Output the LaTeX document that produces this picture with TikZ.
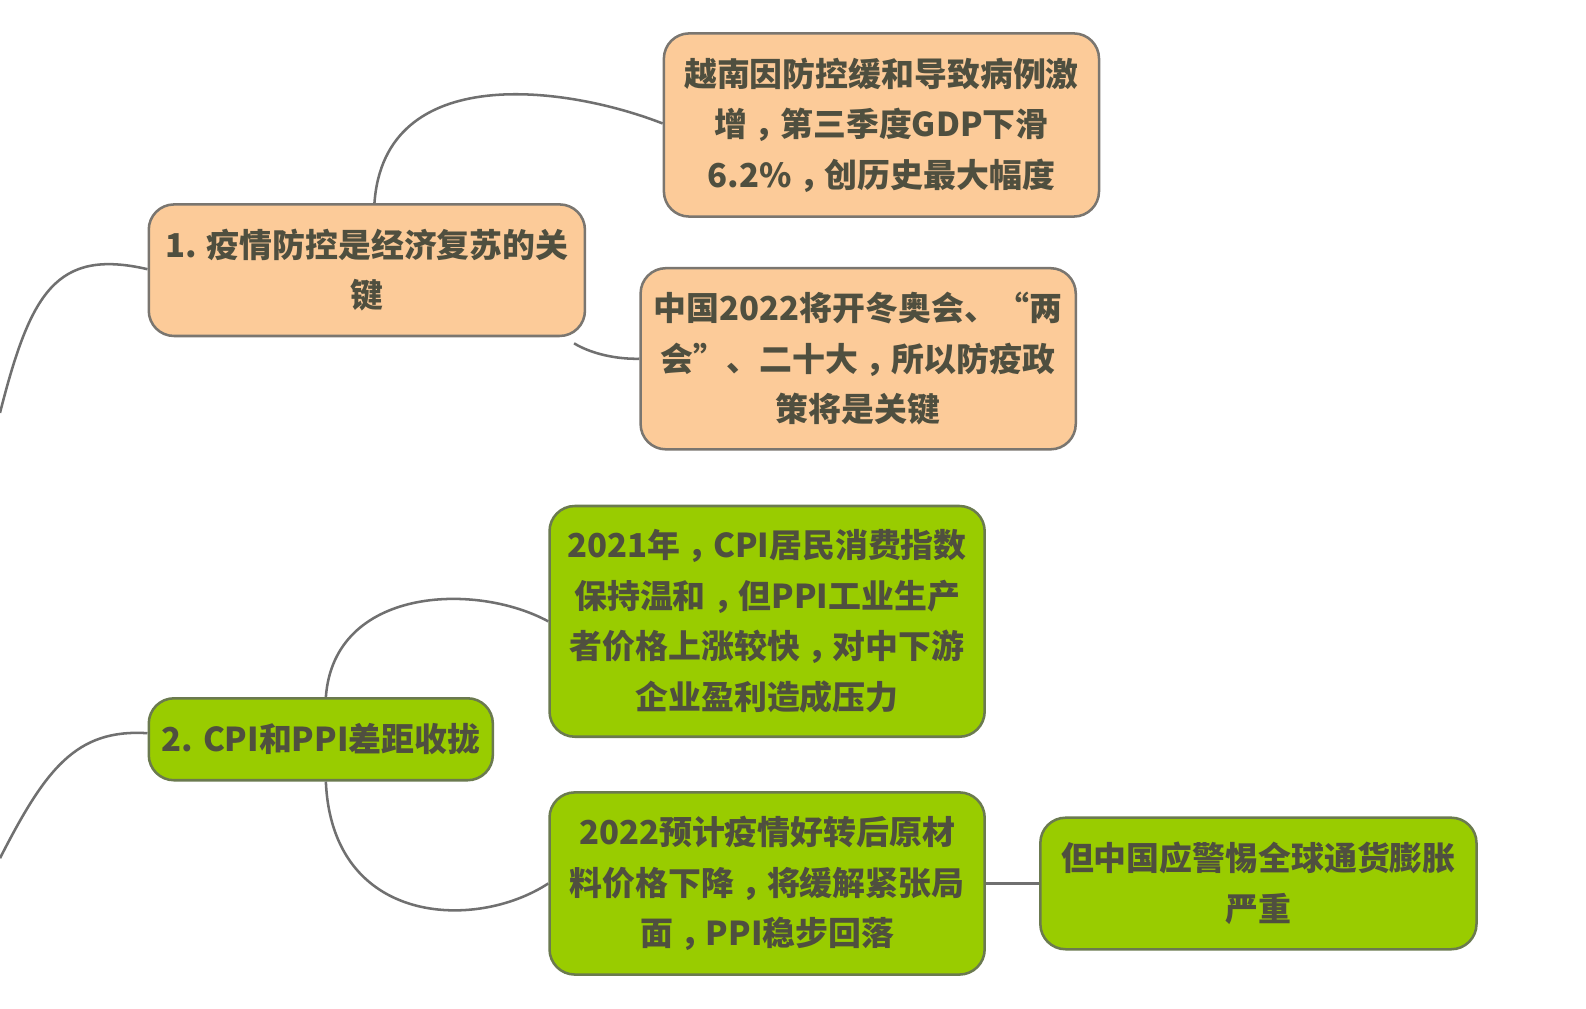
\documentclass[tikz,border=0pt]{standalone}
\usepackage{fontspec}
\newfontfamily\cjk{Noto Sans CJK SC}
\newcommand\CM{\makebox[1em][l]{\hspace{0.22em}\makebox[0pt][l]{，}}}
\definecolor{orangefill}{HTML}{FCCB99}
\definecolor{greenfill}{HTML}{99CC00}
\definecolor{txt}{HTML}{4F4F3F}
\definecolor{linegray}{HTML}{707070}
\definecolor{orangeborder}{HTML}{7A7670}
\definecolor{greenborder}{HTML}{6B7A4F}
\tikzset{
  box/.style={rounded corners=25pt, line width=2.5pt, align=center, inner sep=0pt,
    text=txt, font=\cjk\bfseries\fontsize{32.5}{50}\selectfont},
  obox/.style={box, fill=orangefill, draw=orangeborder},
  gbox/.style={box, fill=greenfill, draw=greenborder},
  conn/.style={draw=linegray, line width=2.5pt}
}
\begin{document}
\begin{tikzpicture}[x=1pt,y=-1pt]
\useasboundingbox (0,0) rectangle (1567.2,996.05);
\fill[white] (0,0) rectangle (1567.2,996.05);

\node[obox, minimum width=430pt, minimum height=181pt] (A) at (871,123.5)
  {越南因防控缓和导致病例激\\增\CM 第三季度GDP下滑\\6.2\%\CM 创历史最大幅度};
\node[obox, minimum width=431pt, minimum height=130pt] (B) at (362.5,267)
  {1. 疫情防控是经济复苏的关\\键};
\node[obox, minimum width=430pt, minimum height=179pt] (C) at (848,354.5)
  {中国2022将开冬奥会、“两\\会”、二十大\CM 所以防疫政\\策将是关键};
\node[gbox, minimum width=430pt, minimum height=228pt] (D) at (758,614)
  {2021年\CM CPI居民消费指数\\保持温和\CM 但PPI工业生产\\者价格上涨较快\CM 对中下游\\企业盈利造成压力};
\node[gbox, minimum width=340pt, minimum height=81pt] (E) at (317,730.5)
  {2. CPI和PPI差距收拢};
\node[gbox, minimum width=430pt, minimum height=180pt] (F) at (758,873)
  {2022预计疫情好转后原材\\料价格下降\CM 将缓解紧张局\\面\CM PPI稳步回落};
\node[gbox, minimum width=431pt, minimum height=130pt] (G) at (1243.5,873)
  {但中国应警惕全球通货膨胀\\严重};

\coordinate (L1) at (0,408);
\coordinate (L2) at (0,848);

\path[conn] (L1) .. controls (30,290) and (55,245) .. ([yshift=1pt]B.west);
\path[conn] (L2) .. controls (45,760) and (75,720) .. ([yshift=6pt]E.west);
\path[conn] ([xshift=7.5pt]B.north) .. controls (380,60) and (560,85) .. ([yshift=1.5pt]A.west);
\path[conn] ([xshift=-12pt,yshift=-6pt]B.south east) .. controls (585,350) and (610,355) .. (C.west);
\path[conn] ([xshift=5pt]E.north) .. controls (330,580) and (470,575) .. (D.west);
\path[conn] ([xshift=5pt]E.south) .. controls (328,915) and (470,920) .. (F.west);
\path[conn] (F.east) -- (G.west);
\end{tikzpicture}
\end{document}
